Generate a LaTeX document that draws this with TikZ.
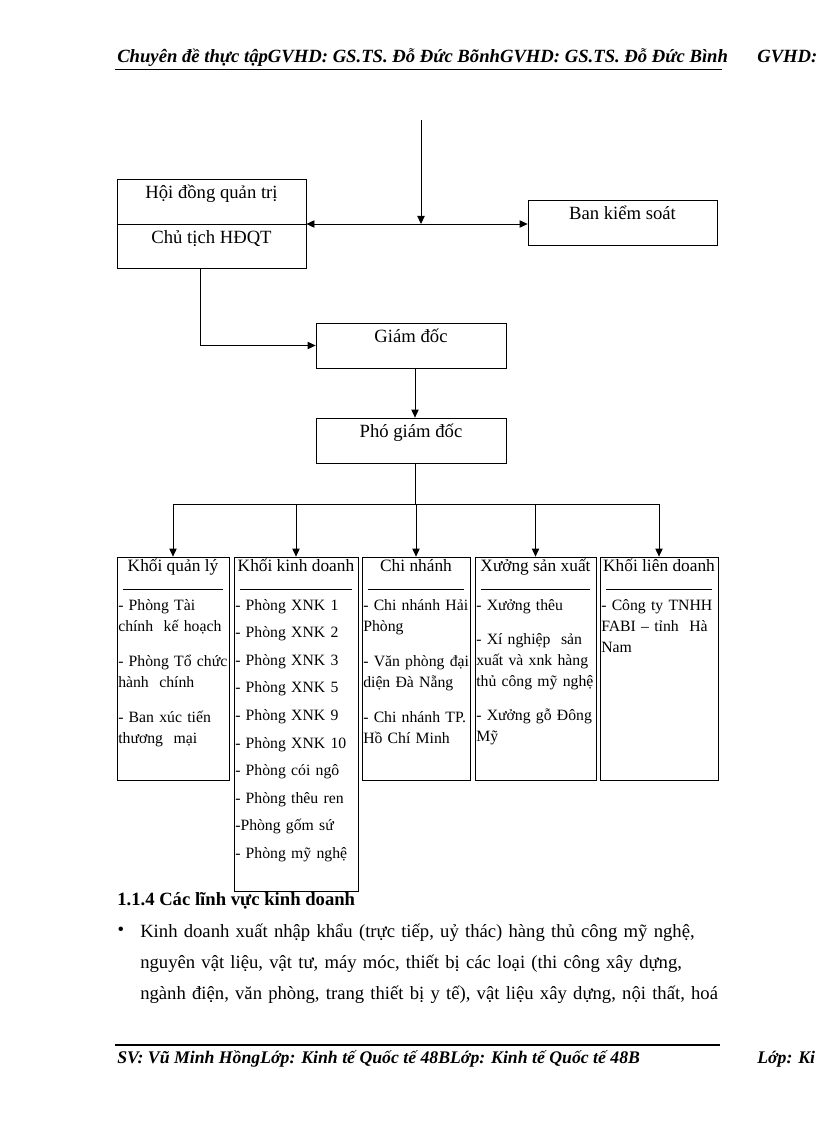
\documentclass[tikz,border=0pt]{standalone}
\usepackage{fontspec}
\setmainfont{Liberation Serif}
\usetikzlibrary{fit,calc,arrows.meta}
\newcommand{\jline}[2]{\makebox[#1][s]{#2}}
\tikzset{
  unitbox/.style = {draw, rectangle, inner sep=0pt, line width=0.6pt},
  toptext/.style = {font=\fontsize{14}{17}\selectfont, anchor=mid, inner sep=0pt},
  coltitle/.style = {font=\fontsize{13}{15}\selectfont, anchor=mid, inner sep=0pt},
  colbody/.style = {font=\fontsize{11.8}{15.75}\selectfont, anchor=base west, align=left, inner sep=0pt, text width=95pt},
  pagetext/.style = {font=\fontsize{14}{17}\selectfont\bfseries\itshape, anchor=base west, inner sep=0pt},
  foottext/.style = {font=\fontsize{13.3}{16}\selectfont\bfseries\itshape, anchor=base west, inner sep=0pt},
  bodytext/.style = {font=\fontsize{14}{23.25}\selectfont, anchor=base west, align=left, inner sep=0pt},
  link/.style = {line width=0.6pt}
}

\begin{document}
\begin{tikzpicture}[x=0.75pt, y=-0.75pt, >={Triangle[length=6pt,width=5.5pt]}]
  \useasboundingbox (0,0) rectangle (816,1123);

  % the page header
  \node[pagetext] (head) at (117,63) {Chuyên đề thực tậpGVHD: GS.TS. Đỗ Đức BõnhGVHD: GS.TS. Đỗ Đức Bình};
  \node[pagetext] (headr) at (757,63) {GVHD:};
  \draw[line width=0.5pt] (115,69) -- (722,69);

  % the board and the control unit
  \node[unitbox, fit={(117,179) (306,268)}] (hdqt) {};
  \draw[link] (117,224) -- (306,224);
  \node[toptext] (hdqt-t1) at (211.5,195) {Hội đồng quản trị};
  \node[toptext] (hdqt-t2) at (211.5,240) {Chủ tịch HĐQT};
  \node[unitbox, fit={(528,200) (717,245)}] (bks) {};
  \node[toptext] (bks-t) at (622.5,216) {Ban kiểm soát};

  % the directors
  \node[unitbox, fit={(316,323) (506,368)}] (gd) {};
  \node[toptext] (gd-t) at (411,339) {Giám đốc};
  \node[unitbox, fit={(316,418) (506,463)}] (pgd) {};
  \node[toptext] (pgd-t) at (411,434) {Phó giám đốc};

  % the links above
  \coordinate (top) at (421,120);
  \coordinate (meet) at (421,224);
  \coordinate (turn) at (200,345);
  \coordinate (split) at (415,504);
  \draw[link,<->] (hdqt.east |- meet) -- (bks.west |- meet);
  \draw[link,->] (top) -- (meet);
  \draw[link,->] (hdqt.south -| turn) |- (gd.west);
  \draw[link,->] (gd.south -| split) -- (pgd.north -| split);
  \draw[link] (pgd.south -| split) -- (split);

  % the five blocks
  \node[unitbox, fit={(117,557) (229,780)}] (q) {};
  \node[unitbox, fit={(234,557) (358,891)}] (kd) {};
  \node[unitbox, fit={(362,557) (470,780)}] (cn) {};
  \node[unitbox, fit={(475,557) (596,780)}] (xs) {};
  \node[unitbox, fit={(600,557) (718,780)}] (ld) {};
  \draw[link] (q.north |- split) -- (ld.north |- split);
  \foreach \b/\boxtitle in {q/Khối quản lý, kd/Khối kinh doanh, cn/Chi nhánh, xs/Xưởng sản xuất, ld/Khối liên doanh} {
    \node[coltitle] (\b-title) at ($(\b.north)+(0,12)$) {\boxtitle};
    \draw[link] ($(\b.north west)+(6,33)$) -- ($(\b.north east)+(-6,33)$);
    \draw[link,->] (\b.north |- split) -- (\b.north);
  }

  % the contents of the blocks
  \node[colbody] (q-body) at (118,610)
    {- Phòng Tài\\ chính~ kế hoạch\\[10.5pt] \jline{80pt}{- Phòng Tổ chức}\\ hành~ chính\\[10.5pt] - Ban xúc tiến\\ thương~ mại};
  \foreach \i/\entry in {1/- Phòng XNK 1, 2/- Phòng XNK 2, 3/- Phòng XNK 3, 4/- Phòng XNK 5, 5/- Phòng XNK 9,
      6/- Phòng XNK 10, 7/- Phòng cói ngô, 8/- Phòng thêu ren, 9/-Phòng gốm sứ, 10/- Phòng mỹ nghệ}
    \node[colbody] (kd-\i) at (235,{610+27.6*(\i-1)}) {\entry};
  \node[colbody] (cn-body) at (363,610)
    {\jline{79.5pt}{- Chi nhánh Hải}\\ Phòng\\[10.5pt] \jline{79.5pt}{- Văn phòng đại}\\ diện Đà Nẵng\\[10.5pt] \jline{79.5pt}{- Chi nhánh TP.}\\ Hồ Chí Minh};
  \node[colbody] (xs-body) at (476,610)
    {- Xưởng thêu\\[9.75pt] - Xí nghiệp~ sản\\ \jline{84pt}{xuất và xnk hàng}\\ \jline{84pt}{thủ công mỹ nghệ}\\[9.75pt] - Xưởng gỗ Đông\\ Mỹ};
  \node[colbody] (ld-body) at (601,610)
    {- Công ty TNHH\\ FABI – tỉnh~ Hà\\ Nam};

  % the text below
  \node[font=\fontsize{14}{17}\selectfont\bfseries, anchor=base west, inner sep=0pt] (sec) at (117,905) {1.1.4 Các lĩnh vực kinh doanh};
  \node[font=\fontsize{14}{17}\selectfont, anchor=mid, inner sep=0pt] (bul) at (121,932) {\textbullet};
  \node[bodytext, text width=433.5pt] (bul-text) at (140,937)
    {\jline{\linewidth}{Kinh doanh xuất nhập khẩu (trực tiếp, uỷ thác) hàng thủ công mỹ nghệ,}\\
     \jline{\linewidth}{nguyên vật liệu, vật tư, máy móc, thiết bị các loại (thi công xây dựng,}\\
     \jline{\linewidth}{ngành điện, văn phòng, trang thiết bị y tế), vật liệu xây dựng, nội thất, hoá}};

  % the page footer
  \draw[line width=1.5pt] (115,1045) -- (720,1045);
  \node[foottext] (foot) at (117,1063) {SV: Vũ Minh HồngLớp: Kinh tế Quốc tế 48BLớp: Kinh tế Quốc tế 48B};
  \node[foottext] (footr) at (757,1063) {Lớp: Ki};
\end{tikzpicture}
\end{document}
